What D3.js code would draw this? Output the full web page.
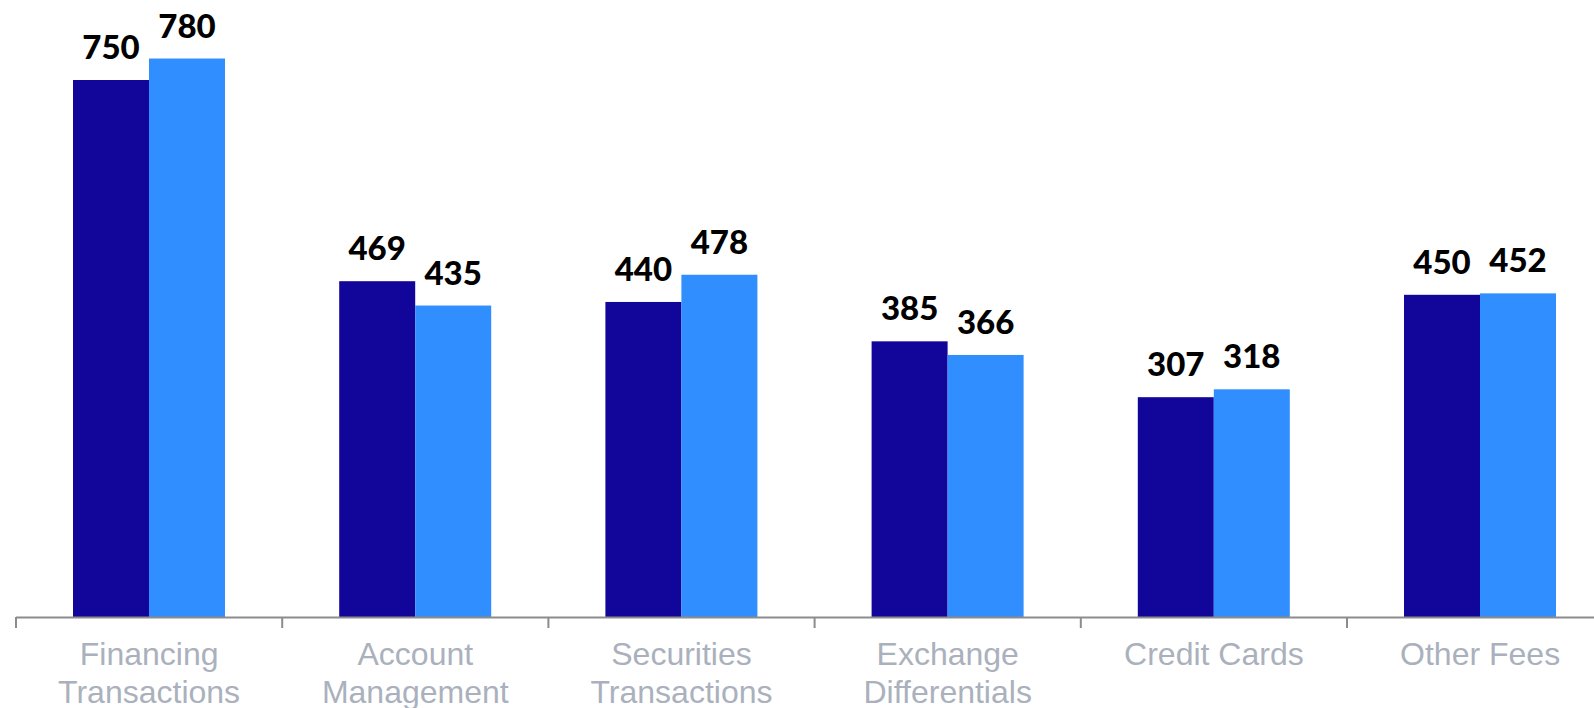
<!DOCTYPE html>
<html>
<head>
<meta charset="utf-8">
<script src="https://cdn.jsdelivr.net/npm/d3@7"></script>
<style>
  html, body { margin: 0; padding: 0; background: #ffffff; overflow: hidden; }
  svg { display: block; }
</style>
</head>
<body>
<svg id="chart" width="1594" height="708"></svg>
<script>
// Fee income by category, two consecutive periods
const categories = [
  ["Financing", "Transactions"],
  ["Account", "Management"],
  ["Securities", "Transactions"],
  ["Exchange", "Differentials"],
  ["Credit Cards"],
  ["Other Fees"]
];
const seriesNames = ["Previous", "Current"];
const previousValues = [750, 469, 440, 385, 307, 450];
const currentValues = [780, 435, 478, 366, 318, 452];
const seriesColors = ["#12069a", "#318eff"];

const W = 1594, H = 708;
const baseline = 617;
const step = 266.2;
const left = 16;

const svg = d3.select("#chart");

const keys = categories.map(c => c.join(" "));
const x0 = d3.scaleBand()
  .domain(keys)
  .range([left, left + step * categories.length])
  .paddingInner(0)
  .paddingOuter(0);

const x1 = d3.scaleBand()
  .domain(seriesNames)
  .range([57, 57 + 152])
  .padding(0);

const y = d3.scaleLinear()
  .domain([0, 800])
  .range([baseline, baseline - 800 * 0.716]);

const rows = keys.map((k, i) => ({
  key: k,
  values: [
    { series: seriesNames[0], value: previousValues[i], color: seriesColors[0] },
    { series: seriesNames[1], value: currentValues[i], color: seriesColors[1] }
  ]
}));

const groups = svg.selectAll("g.group")
  .data(rows)
  .join("g")
  .attr("class", "group")
  .attr("transform", d => `translate(${x0(d.key)},0)`);

groups.selectAll("rect")
  .data(d => d.values)
  .join("rect")
  .attr("x", d => x1(d.series))
  .attr("y", d => y(d.value))
  .attr("width", x1.bandwidth())
  .attr("height", d => baseline - y(d.value))
  .attr("fill", d => d.color);

groups.selectAll("text.value")
  .data(d => d.values)
  .join("text")
  .attr("class", "value")
  .attr("x", d => x1(d.series) + x1.bandwidth() / 2)
  .attr("y", d => y(d.value) - 21)
  .attr("text-anchor", "middle")
  .style("font-family", "Lato, 'Open Sans', sans-serif")
  .style("font-weight", "900")
  .style("font-size", "33px")
  .style("fill", "#000000")
  .text(d => d.value);

// Category axis: baseline with ticks at band boundaries
const axis = svg.append("g").attr("class", "x-axis");
axis.append("line")
  .attr("x1", left)
  .attr("x2", W)
  .attr("y1", baseline + 0.5)
  .attr("y2", baseline + 0.5)
  .attr("stroke", "#8c8c8c")
  .attr("stroke-width", 2);

const boundaries = keys.map(k => x0(k));
axis.selectAll("line.tick")
  .data(boundaries)
  .join("line")
  .attr("class", "tick")
  .attr("x1", d => d)
  .attr("x2", d => d)
  .attr("y1", baseline)
  .attr("y2", baseline + 11)
  .attr("stroke", "#8c8c8c")
  .attr("stroke-width", 2);

const labels = axis.selectAll("text.cat")
  .data(categories)
  .join("text")
  .attr("class", "cat")
  .attr("x", (d, i) => x0(keys[i]) + x0.bandwidth() / 2)
  .attr("y", 665)
  .attr("text-anchor", "middle")
  .style("font-family", "'Liberation Sans', Arial, sans-serif")
  .style("font-size", "32px")
  .style("fill", "#aab1bd");

labels.selectAll("tspan")
  .data(d => d)
  .join("tspan")
  .attr("x", function () { return d3.select(this.parentNode).attr("x"); })
  .attr("dy", (d, i) => i === 0 ? 0 : 38)
  .text(d => d);
</script>
</body>
</html>
